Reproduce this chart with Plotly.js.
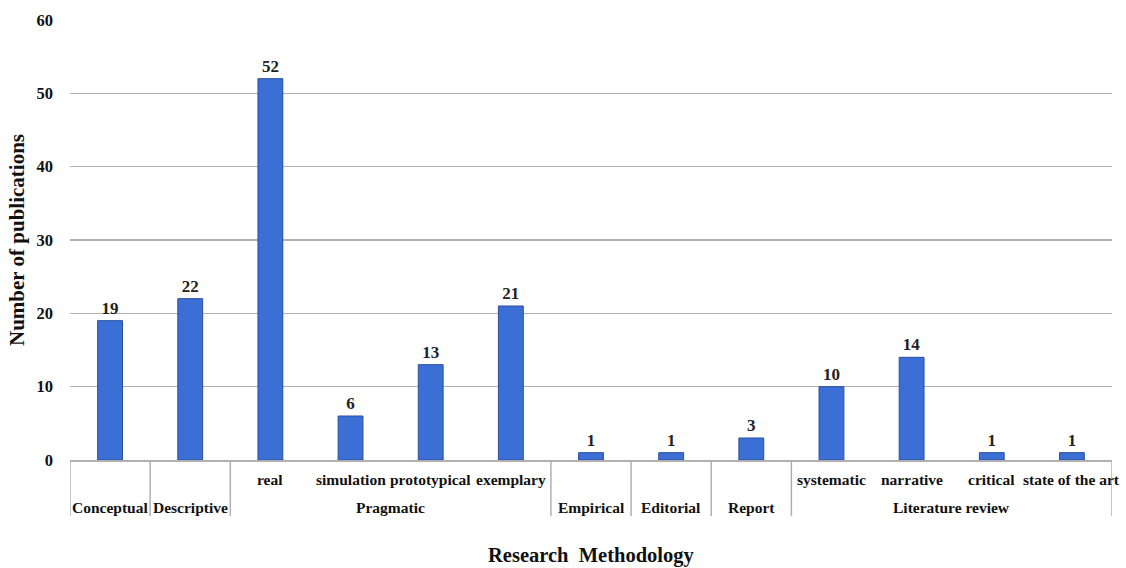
<!DOCTYPE html>
<html><head><meta charset="utf-8">
<script src="https://cdn.plot.ly/plotly-3.0.1.min.js"></script>
<style>html,body{margin:0;padding:0;background:#fff}#chart{width:1126px;height:568px}</style>
</head><body><div id="chart"></div>
<script>
const categories = ["Conceptual","Descriptive","real","simulation","prototypical","exemplary","Empirical","Editorial","Report","systematic","narrative","critical","state of the art"];
const subLabels = ["","","real","simulation","prototypical","exemplary","","","","systematic","narrative","critical","state of the art"];
const values = [19,22,52,6,13,21,1,1,3,10,14,1,1];
const groupNames = ["Conceptual","Descriptive","Pragmatic","Empirical","Editorial","Report","Literature review"];
const groupStart = [0,1,2,6,7,8,9];
const groupEnd = [0,1,5,6,7,8,12];

const font = "Liberation Serif";
const annotations = [];
const shapes = [];
subLabels.forEach((s,i)=>{
  if(s) annotations.push({x:categories[i], xref:'x', y:0, yref:'paper', yanchor:'middle', yshift:-19, text:'<b>'+s+'</b>', showarrow:false, font:{family:font,size:15.5,color:'#111'}});
});
groupNames.forEach((g,k)=>{
  annotations.push({x:(groupStart[k]+groupEnd[k])/2, xref:'x', y:0, yref:'paper', yanchor:'middle', yshift:-47, text:'<b>'+g+'</b>', showarrow:false, font:{family:font,size:15.5,color:'#111'}});
  shapes.push({type:'line', xref:'x', yref:'paper', x0:groupStart[k]-0.5, x1:groupStart[k]-0.5, y0:0, y1:-56/440, line:{color:'#b0b0b0',width:1.5}});
});
shapes.push({type:'line', xref:'x', yref:'paper', x0:groupEnd[groupEnd.length-1]+0.5, x1:groupEnd[groupEnd.length-1]+0.5, y0:0, y1:-56/440, line:{color:'#b0b0b0',width:1.5}});
annotations.push({x:0.5, xref:'paper', y:0, yref:'paper', yanchor:'middle', yshift:-95, text:'<b>Research  Methodology</b>', showarrow:false, font:{family:font,size:20.5,color:'#111'}});

Plotly.newPlot('chart',[{
  type:'bar', x:categories, y:values, text:values.map(String), textposition:'outside', cliponaxis:false,
  textfont:{family:font,size:17,color:'#222',weight:'bold'},
  marker:{color:'#3b6fd6', line:{color:'#2a4f9e',width:1}}, hoverinfo:'none'
}],{
  width:1126, height:568, margin:{l:70,r:14,t:20,b:108},
  paper_bgcolor:'#fff', plot_bgcolor:'#fff', showlegend:false, bargap:0.69,
  xaxis:{type:'category', showticklabels:false, showgrid:false, showline:true, linecolor:'#b0b0b0', linewidth:1.5, range:[-0.5,12.5], zeroline:false},
  yaxis:{range:[0,60], dtick:10, showgrid:true, gridcolor:'#b0b0b0', gridwidth:1.5, zeroline:false, showline:false, ticklabelstandoff:16,
    tickfont:{family:font,size:16.5,color:'#111',weight:'bold'},
    title:{text:'<b>Number of publications</b>', standoff:6, font:{family:font,size:21,color:'#111'}}},
  annotations:annotations, shapes:shapes
},{displayModeBar:false, staticPlot:true});
</script></body></html>
